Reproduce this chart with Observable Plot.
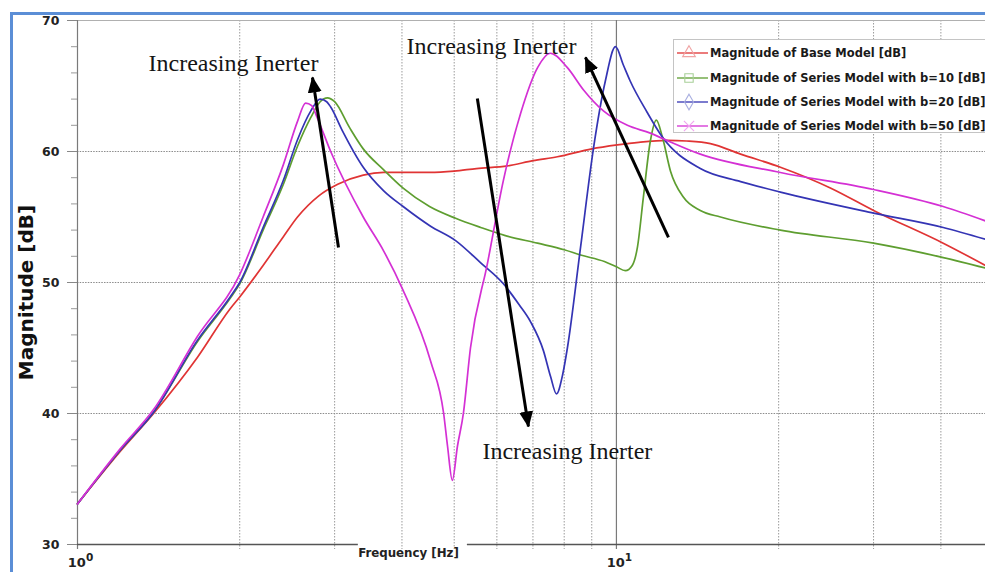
<!DOCTYPE html>
<html>
<head>
<meta charset="utf-8">
<script src="https://cdn.jsdelivr.net/npm/d3@7"></script>
<script src="https://cdn.jsdelivr.net/npm/@observablehq/plot@0.6"></script>
<style>
  html, body { margin: 0; padding: 0; background: #fff; }
  body { width: 985px; height: 572px; overflow: hidden; position: relative; }
  #frame { position: absolute; left: 10px; top: 12px; width: 1010px; height: 620px; border: 3px solid #5b8ed6; box-sizing: border-box; }
  #chart { position: absolute; left: 0; top: 0; }
  #legend { position: absolute; left: 673px; top: 39px; width: 330px; height: 94px; border: 1px solid #c4c4c4; background: #fff; box-sizing: border-box; font-family: "DejaVu Sans", Verdana, sans-serif; font-weight: bold; font-size: 11.5px; color: #1a1a1a; }
  .row { position: absolute; left: 0; height: 20px; display: flex; align-items: center; white-space: nowrap; }
  .row svg { display: block; margin-left: 1px; margin-right: 2px; }
</style>
</head>
<body>
<div id="frame"></div>
<div id="chart"></div>
<div id="legend"></div>
<script>
// ---------- data ----------
const seriesNames = [
  "Magnitude of Base Model [dB]",
  "Magnitude of Series Model with b=10 [dB]",
  "Magnitude of Series Model with b=20 [dB]",
  "Magnitude of Series Model with b=50 [dB]"
];
const seriesColors = ["#e03434", "#5e9e30", "#3434b4", "#d430d4"];
const markerColors = ["#f0a4a4", "#a8d098", "#a8aee0", "#f0a4f0"];
const markerSymbols = ["triangle", "square", "diamond", "cross"];

// [frequency Hz, magnitude dB]
const baseModel = [
  [1, 33.1], [1.2, 37.1], [1.384, 40.0], [1.67, 44.3], [1.92, 48.0], [2.0, 48.9],
  [2.21, 51.3], [2.41, 53.5], [2.56, 55.0], [2.8, 56.6], [3.04, 57.5], [3.39, 58.2],
  [3.7, 58.4], [4.0, 58.4], [4.5, 58.4], [5.0, 58.5], [5.5, 58.7], [6.28, 58.9],
  [7.0, 59.3], [7.77, 59.6], [9.0, 60.2], [10.04, 60.5], [11.0, 60.7], [12.43, 60.85],
  [13.5, 60.8], [14.94, 60.6], [17.0, 59.8], [20.15, 58.8], [25.0, 57.2], [30.0, 55.5],
  [40.4, 53.0], [48.4, 51.3]
];
const seriesB10 = [
  [1, 33.1], [1.2, 37.2], [1.384, 40.1], [1.67, 45.5], [1.92, 48.8], [2.0, 49.9],
  [2.21, 54.0], [2.41, 57.5], [2.56, 60.4], [2.71, 62.6], [2.82, 63.8], [2.91, 64.1],
  [3.0, 63.8], [3.2, 61.8], [3.39, 60.2], [3.7, 58.6], [4.02, 57.2], [4.5, 55.8],
  [5.03, 54.9], [5.6, 54.2], [6.2, 53.6], [7.14, 53.0], [8.0, 52.5], [8.58, 52.1],
  [9.5, 51.6], [10.0, 51.2], [10.39, 50.9], [10.7, 51.3], [10.94, 52.7], [11.22, 56.5],
  [11.56, 60.8], [11.86, 62.4], [12.17, 61.1], [12.6, 58.5], [13.32, 56.5], [14.31, 55.5],
  [15.6, 55.0], [20.15, 54.0], [30.0, 53.0], [40.4, 51.9], [48.4, 51.1]
];
const seriesB20 = [
  [1, 33.1], [1.2, 37.2], [1.384, 40.1], [1.67, 45.6], [1.92, 48.9], [2.0, 50.0],
  [2.21, 54.2], [2.41, 57.8], [2.56, 60.9], [2.71, 63.1], [2.82, 64.0], [2.9, 63.8],
  [2.95, 63.4], [3.1, 61.6], [3.39, 58.8], [3.7, 57.0], [4.02, 55.8], [4.52, 54.3],
  [5.03, 53.2], [5.6, 51.5], [6.17, 49.9], [6.6, 48.3], [6.93, 47.0], [7.32, 44.8],
  [7.55, 42.8], [7.74, 41.5], [7.95, 43.0], [8.11, 45.0], [8.58, 52.7], [9.07, 60.3],
  [9.54, 65.4], [9.96, 68.0], [10.3, 66.6], [10.6, 65.4], [11.4, 63.0], [12.17, 61.1],
  [14.31, 58.7], [17.0, 57.7], [20.15, 56.9], [30.0, 55.3], [40.4, 54.2], [48.4, 53.3]
];
const seriesB50 = [
  [1, 33.1], [1.2, 37.3], [1.384, 40.3], [1.67, 45.9], [2.0, 50.6], [2.21, 55.0],
  [2.41, 59.0], [2.56, 62.3], [2.65, 63.7], [2.72, 63.5], [2.79, 62.5], [2.95, 60.0],
  [3.39, 55.0], [3.7, 52.4], [4.02, 49.4], [4.52, 44.0], [4.78, 40.0], [4.86, 37.5],
  [4.96, 34.9], [5.07, 37.5], [5.2, 40.0], [5.36, 45.0], [5.76, 51.4], [6.17, 57.8],
  [6.64, 62.9], [7.14, 66.4], [7.54, 67.5], [8.11, 66.4], [8.69, 64.7], [9.46, 63.1],
  [10.48, 62.0], [11.56, 61.4], [12.17, 61.0], [14.31, 59.8], [20.15, 58.4], [30.0, 57.1],
  [40.4, 55.8], [48.4, 54.7]
];

const freqTicks = [1, 10];
const freqTickBase = ["10", "10"];
const freqTickExponents = ["0", "1"];
const minorFreqs = [2, 3, 4, 5, 6, 7, 8, 9, 20, 30, 40];
const majorDB = [30, 40, 50, 60, 70];
const minorDB = [32, 34, 36, 38, 42, 44, 46, 48, 52, 54, 56, 58, 62, 64, 66, 68];
const gridDB = [40, 50, 60];
const xDomain = [1, 48.4];
const yDomain = [30, 70];
const xLabel = "Frequency [Hz]";
const yLabel = "Magnitude [dB]";

const annotationText = ["Increasing Inerter", "Increasing Inerter", "Increasing Inerter"];
const annotationF = [1.947, 5.864, 8.11];
const annotationDB = [66.7, 68.03, 37.15];

const arrowF1 = [3.05, 5.52, 12.49];
const arrowDB1 = [52.67, 64.05, 53.44];
const arrowF2 = [2.729, 6.867, 8.76];
const arrowDB2 = [65.65, 39.01, 67.18];

// ---------- build ----------
const allSeries = [baseModel, seriesB10, seriesB20, seriesB50];
const rows = allSeries.flatMap((s, i) => s.map(([f, db]) => ({f, db, s: seriesNames[i]})));
const annotations = annotationText.map((t, i) => ({t, f: annotationF[i], db: annotationDB[i]}));
const arrows = arrowF1.map((f, i) => ({f1: f, d1: arrowDB1[i], f2: arrowF2[i], d2: arrowDB2[i]}));

const chart = Plot.plot({
  width: 985,
  height: 572,
  marginTop: 20,
  marginBottom: 28,
  marginLeft: 77,
  marginRight: 0,
  style: {fontFamily: "DejaVu Sans, Verdana, sans-serif", background: "transparent", overflow: "visible"},
  x: {type: "log", domain: xDomain},
  y: {domain: yDomain},
  color: {domain: seriesNames, range: seriesColors},
  marks: [
    Plot.ruleX(minorFreqs, {stroke: "#9a9a9a", strokeDasharray: "1.5,1.5", strokeWidth: 1, insetBottom: -5}),
    Plot.ruleY(gridDB, {stroke: "#8c8c8c", strokeDasharray: "1.5,1.2", strokeWidth: 1}),
    Plot.ruleY([yDomain[1]], {stroke: "#b0b0b0", strokeWidth: 1.2}),
    Plot.ruleX(freqTicks, {stroke: "#7a7a7a", strokeWidth: 1.2, insetBottom: -5}),
    Plot.ruleY([yDomain[0]], {x1: 1, x2: 3.32, stroke: "#555", strokeWidth: 1.5}),
    Plot.ruleY([yDomain[0]], {x1: 5.29, x2: 48.4, stroke: "#555", strokeWidth: 1.5}),
    Plot.axisY(majorDB, {tickSize: 10, tickPadding: 8, fontSize: 12.5, fontWeight: "bold", fill: "#222", stroke: "#888", label: null}),
    Plot.axisY(minorDB, {tickSize: 6, tickFormat: () => "", stroke: "#999", label: null}),
    Plot.axisX(freqTicks, {tickSize: 0, tickPadding: 13, fontSize: 13, fontWeight: "bold", fill: "#222",
      tickFormat: d => freqTickBase[freqTicks.indexOf(d)], label: null}),
    Plot.text([xLabel], {x: 4.113, y: yDomain[0], dy: 9, fontSize: 11.8, fontWeight: "bold", fill: "#222"}),
    Plot.text([yLabel], {frameAnchor: "left", textAnchor: "middle", rotate: -90, dx: -51, dy: 10, fontSize: 20, fontWeight: "bold", fill: "#111"}),
    Plot.line(rows, {x: "f", y: "db", z: "s", stroke: "s", strokeWidth: 1.7, curve: "monotone-x"}),
    Plot.text(annotations, {x: "f", y: "db", text: "t", fontFamily: "Liberation Serif, Times New Roman, serif", fontSize: 24, fill: "#151515"}),
    Plot.link(arrows, {x1: "f1", y1: "d1", x2: "f2", y2: "d2", stroke: "#000", strokeWidth: 3})
  ]
});
document.getElementById("chart").appendChild(chart);

// superscript exponents on the x tick labels
const ns = "http://www.w3.org/2000/svg";
chart.querySelectorAll('g[aria-label="x-axis tick label"] text').forEach((t, i) => {
  const sup = document.createElementNS(ns, "tspan");
  sup.setAttribute("dy", "-0.55em");
  sup.setAttribute("font-size", "10.5");
  sup.textContent = freqTickExponents[i];
  t.appendChild(sup);
  t.setAttribute("dx", "3");
});

// filled arrowheads for the link marks
const defs = document.createElementNS(ns, "defs");
defs.innerHTML = '<marker id="ahead" viewBox="0 0 16 14" refX="15" refY="7" markerWidth="16" markerHeight="14" markerUnits="userSpaceOnUse" orient="auto"><path d="M0,0 L16,7 L0,14 Z" fill="#000"/></marker>';
chart.insertBefore(defs, chart.firstChild);
chart.querySelectorAll('g[aria-label="link"] path').forEach(p => p.setAttribute("marker-end", "url(#ahead)"));

// legend
const legend = d3.select("#legend");
const rowTops = [3, 28, 52, 76];
seriesNames.forEach((name, i) => {
  const row = legend.append("div").attr("class", "row").style("top", rowTops[i] + "px");
  const sw = row.append("svg").attr("width", 33).attr("height", 20);
  sw.append("line").attr("x1", 2).attr("x2", 33).attr("y1", 10).attr("y2", 10)
    .attr("stroke", seriesColors[i]).attr("stroke-width", 1.3);
  const sym = {triangle: d3.symbolTriangle, square: d3.symbolSquare, diamond: d3.symbolDiamond, cross: d3.symbolX}[markerSymbols[i]];
  sw.append("path").attr("d", d3.symbol(sym, 70)()).attr("transform", "translate(14,10)")
    .attr("fill", "none").attr("stroke", markerColors[i]).attr("stroke-width", 1.1);
  row.append("span").text(name);
});
</script>
</body>
</html>
